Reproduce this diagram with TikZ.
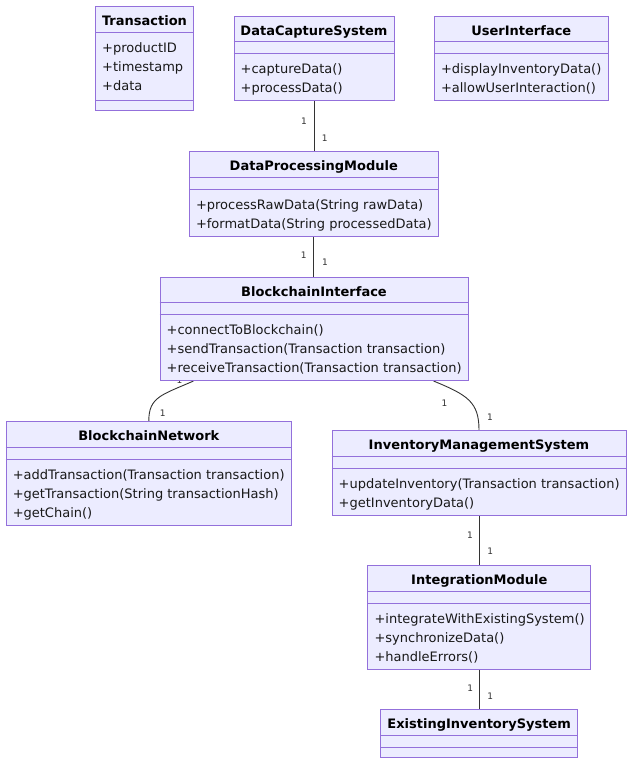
\documentclass[tikz,border=0pt]{standalone}
\usepackage{fontspec}
\setmainfont{DejaVu Sans}
\usetikzlibrary{backgrounds}

\definecolor{umlfill}{HTML}{ECECFF}
\definecolor{umlborder}{HTML}{9370DB}
\definecolor{umlline}{HTML}{333333}

\tikzset{
	classbox/.style={draw=umlborder, fill=umlfill, line width=1pt, inner sep=0pt},
	divider/.style={draw=umlborder, line width=1pt},
	classtitle/.style={font=\fontsize{13}{19}\selectfont\bfseries, inner sep=0pt},
	member/.style={font=\fontsize{13}{19}\selectfont, text=black!90, inner sep=0pt},
	assoc/.style={draw=umlline, line width=0.9pt},
	mult/.style={font=\fontsize{9}{10}\selectfont, text=umlline, inner sep=0pt}
}

% #1 name, #2 centre x, #3 top, #4 width, #5/#6 number of attributes/methods,
% #7 title, #8 attributes, #9 methods
\newcommand{\umlclass}[9]{%
	\ifnum#5=0 \def\ha{12}\else\pgfmathsetmacro\ha{11+19*#5}\fi
	\ifnum#6=0 \def\hm{10}\else\pgfmathsetmacro\hm{8.5+19*#6}\fi
	\pgfmathsetmacro\hh{26+\ha+\hm}
	\node[classbox, minimum width=#4, minimum height=\hh, anchor=north] (#1) at (#2,#3) {};
	\draw[divider] ([yshift=-26]#1.north west) -- ([yshift=-26]#1.north east);
	\draw[divider] ([yshift=-26-\ha]#1.north west) -- ([yshift=-26-\ha]#1.north east);
	\node[classtitle, anchor=base] at ([yshift=-19.5]#1.north) {#7};
	\ifnum#5>0 \foreach \a [count=\k] in {#8} {\node[member, anchor=base west] at ([shift={(7,{-46.5-19*(\k-1)})}]#1.north west) {\a};}\fi
	\ifnum#6>0 \foreach \m [count=\k] in {#9} {\node[member, anchor=base west] at ([shift={(7,{-46-\ha-19*(\k-1)})}]#1.north west) {\m};}\fi
}

\begin{document}
\begin{tikzpicture}[x=1pt, y=1pt]
	\useasboundingbox (0,0) rectangle (640,-771);

	\umlclass{trans}{144.5}{-6}{98}{3}{0}{Transaction}{+productID,+timestamp,+data}{}
	\umlclass{dcs}{314}{-15.5}{160}{0}{2}{DataCaptureSystem}{}{+captureData(),+processData()}
	\umlclass{ui}{521.3}{-15.5}{174}{0}{2}{UserInterface}{}{+displayInventoryData(),+allowUserInteraction()}
	\umlclass{dpm}{313.8}{-151}{249}{0}{2}{DataProcessingModule}{}{+processRawData(String rawData),+formatData(String processedData)}
	\umlclass{bi}{314}{-276.5}{308}{0}{3}{BlockchainInterface}{}{+connectToBlockchain(),+sendTransaction(Transaction transaction),+receiveTransaction(Transaction transaction)}
	\umlclass{bn}{148.8}{-421}{285.5}{0}{3}{BlockchainNetwork}{}{+addTransaction(Transaction transaction),+getTransaction(String transactionHash),+getChain()}
	\umlclass{ims}{479}{-430}{294}{0}{2}{InventoryManagementSystem}{}{+updateInventory(Transaction transaction),+getInventoryData()}
	\umlclass{im}{479.3}{-565}{223}{0}{3}{IntegrationModule}{}{+integrateWithExistingSystem(),+synchronizeData(),+handleErrors()}
	\umlclass{eis}{479.2}{-709.3}{197}{0}{0}{ExistingInventorySystem}{}{}

	% associations, 1 to 1
	\begin{scope}[on background layer]
		\draw[assoc] (dcs.south) -- (dcs.south |- dpm.north);
		\draw[assoc] (dpm.south) -- (dpm.south |- bi.north);
		\draw[assoc] ([xshift=34]bi.south west) .. controls +(-32,-14) and +(0,24) .. (bn.north);
		\draw[assoc] ([xshift=-35]bi.south east) .. controls +(34,-14) and +(0,28) .. (ims.north);
		\draw[assoc] (ims.south) -- (ims.south |- im.north);
		\draw[assoc] (im.south) -- (im.south |- eis.north);

		\node[mult] (m1) at ([xshift=-10,yshift=-20]dcs.south) {1};
		\node[mult] (m2) at ([xshift=11,yshift=13]dpm.north) {1};
		\node[mult] (m3) at ([xshift=-10,yshift=-19]dpm.south) {1};
		\node[mult] (m4) at ([xshift=11,yshift=14]bi.north) {1};
		\node[mult] (m5) at ([xshift=20,yshift=1]bi.south west) {1};
		\node[mult] (m6) at ([xshift=14,yshift=8]bn.north) {1};
		\node[mult] (m7) at ([xshift=-24,yshift=-22]bi.south east) {1};
		\node[mult] (m8) at ([xshift=11,yshift=13]ims.north) {1};
		\node[mult] (m9) at ([xshift=-9,yshift=-20]ims.south) {1};
		\node[mult] (m10) at ([xshift=11,yshift=14]im.north) {1};
		\node[mult] (m11) at ([xshift=-9,yshift=-19]im.south) {1};
		\node[mult] (m12) at ([xshift=11,yshift=13]eis.north) {1};
	\end{scope}
\end{tikzpicture}
\end{document}
